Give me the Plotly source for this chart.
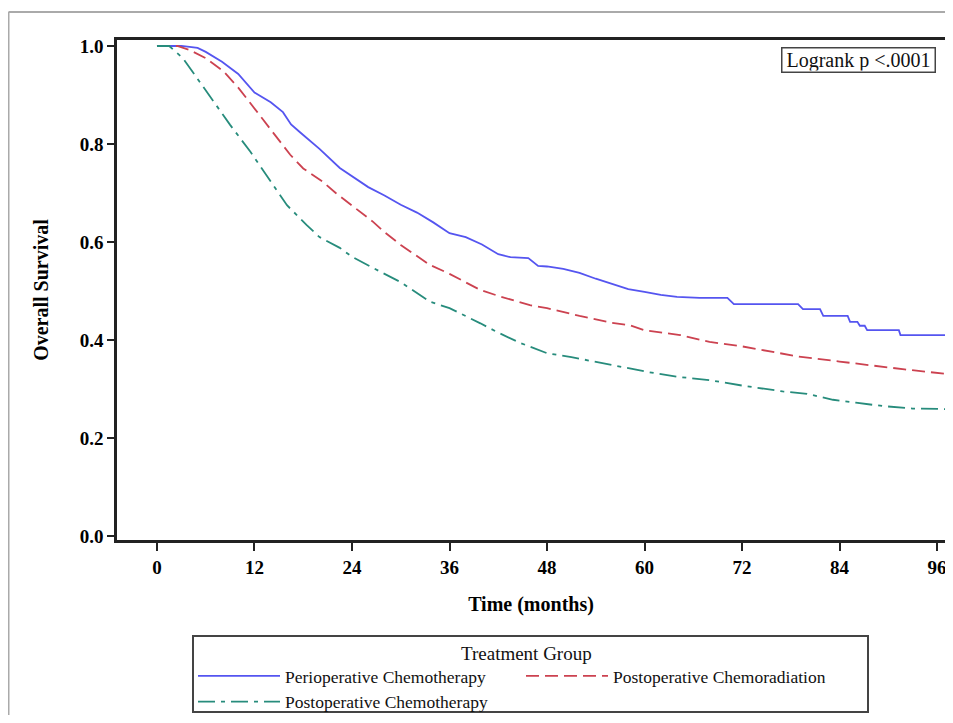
import plotly.graph_objects as go

# ---- data ----
peri_t = [0, 3, 5, 6, 8, 10, 12, 14, 15.5, 16.5, 17.6, 20, 22.5, 24, 26, 28, 30, 32, 34, 36,
          38, 40, 42, 43.5, 45.7, 46.9, 48, 50, 52, 54, 56, 58, 60, 62, 64, 66.8, 70.2, 71,
          78.9, 79.5, 81.6, 82, 85, 85.3, 86.2, 86.5, 87.1, 87.4, 91.3, 91.5, 97]
peri_s = [1.0, 1.0, 0.996, 0.988, 0.968, 0.943, 0.905, 0.885, 0.865, 0.84, 0.824, 0.79, 0.751,
          0.735, 0.712, 0.695, 0.676, 0.66, 0.64, 0.618, 0.61, 0.595, 0.575, 0.569, 0.567,
          0.551, 0.55, 0.545, 0.537, 0.525, 0.515, 0.504, 0.498, 0.492, 0.488, 0.486, 0.486,
          0.473, 0.473, 0.463, 0.463, 0.449, 0.449, 0.437, 0.437, 0.429, 0.429, 0.420, 0.420,
          0.410, 0.410]

crt_t = [0, 2.5, 4, 6, 8.2, 10, 12.3, 14, 16.4, 18, 20.4, 22, 24, 26.6, 28, 30, 33.6, 36,
         39.8, 42, 45.9, 48, 52, 56, 58.2, 60, 64.4, 68, 72, 79, 84, 87.3, 92, 97]
crt_s = [1.0, 1.0, 0.992, 0.975, 0.948, 0.915, 0.866, 0.83, 0.778, 0.75, 0.723, 0.70, 0.675,
         0.641, 0.62, 0.594, 0.553, 0.535, 0.502, 0.49, 0.471, 0.465, 0.449, 0.435, 0.43,
         0.42, 0.41, 0.396, 0.387, 0.366, 0.356, 0.349, 0.34, 0.331]

ct_t = [0, 1.5, 3.2, 6.1, 9, 11.5, 14.3, 16, 18.4, 20, 22.5, 24, 26.6, 30, 33.6, 36, 39.8,
        42, 44.7, 48, 51, 54.2, 57, 60.3, 64, 68, 72, 77, 80, 83.2, 86, 89.4, 93, 97]
ct_s = [1.0, 1.0, 0.975, 0.907, 0.839, 0.784, 0.716, 0.675, 0.635, 0.61, 0.588, 0.57, 0.547,
        0.518, 0.478, 0.465, 0.434, 0.415, 0.394, 0.373, 0.365, 0.355, 0.345, 0.335, 0.325,
        0.318, 0.307, 0.295, 0.29, 0.278, 0.272, 0.265, 0.26, 0.259]

names = ["Perioperative Chemotherapy", "Postoperative Chemoradiation", "Postoperative Chemotherapy"]
x_ticks = [0, 12, 24, 36, 48, 60, 72, 84, 96]
y_ticks = [0.0, 0.2, 0.4, 0.6, 0.8, 1.0]

FONT = "Liberation Serif"

fig = go.Figure()
fig.add_trace(go.Scatter(x=peri_t, y=peri_s, mode="lines", name=names[0],
                         line=dict(color="#5555f0", width=1.8, dash="solid")))
fig.add_trace(go.Scatter(x=crt_t, y=crt_s, mode="lines", name=names[1],
                         line=dict(color="#cc4250", width=1.8, dash="13px,6px")))
fig.add_trace(go.Scatter(x=ct_t, y=ct_s, mode="lines", name=names[2],
                         line=dict(color="#278c7c", width=1.8, dash="17px,6px,4px,6px")))

# page body has an 8px margin, so the figure is drawn 8px in from the window edge
OFF = 8
W, H = 940, 707
L, R, T, B = 109, 3, 32, 175
pw, ph = W - L - R, H - T - B

def px2paper(x, y):
    """window pixel -> paper coords"""
    return (x - OFF - L) / pw, (H - B - (y - OFF)) / ph

# outer frame of the picture (top and left edges)
x0, y0 = px2paper(OFF + 0.5, 12)
x1, _ = px2paper(OFF + W, 12)
_, y1 = px2paper(OFF + 0.5, OFF + H)
fig.add_shape(type="line", xref="paper", yref="paper", x0=x0, y0=y0, x1=x1, y1=y0,
              line=dict(color="#aaaaaa", width=2))
fig.add_shape(type="line", xref="paper", yref="paper", x0=x0, y0=y0, x1=x0, y1=y1,
              line=dict(color="#aaaaaa", width=2))

# legend frame and title
lx0, ly0 = px2paper(193, 636)
lx1, ly1 = px2paper(868, 712)
fig.add_shape(type="rect", xref="paper", yref="paper", x0=lx0, y0=ly0, x1=lx1, y1=ly1,
              line=dict(color="#444444", width=2), fillcolor="rgba(0,0,0,0)")
tx, ty = px2paper(526, 653)
fig.add_annotation(xref="paper", yref="paper", x=tx, y=ty, xanchor="center", yanchor="middle",
                   text="Treatment Group", showarrow=False,
                   font=dict(family=FONT, size=19, color="#111111"))
_, legy = px2paper(0, 658)

ax, ay = px2paper(936, 47)
fig.add_annotation(xref="paper", yref="paper", x=ax, y=ay, xanchor="right", yanchor="top",
                   text="Logrank p <.0001", showarrow=False,
                   font=dict(family=FONT, size=20, color="#111111"),
                   width=150, height=21, align="center",
                   bordercolor="#444444", borderwidth=1.5, borderpad=1, bgcolor="white")

fig.update_layout(
    width=W, height=H,
    margin=dict(l=L, r=R, t=T, b=B, autoexpand=False),
    paper_bgcolor="white", plot_bgcolor="white",
    font=dict(family=FONT, color="black"),
    xaxis=dict(range=[-4.92, 96.98], tickvals=x_ticks, ticks="outside", ticklen=8, tickwidth=2,
               tickcolor="#222222", showline=True, linecolor="#222222", linewidth=2.5, mirror=True,
               showgrid=False, zeroline=False,
               tickfont=dict(family=FONT, size=19, color="black", weight="bold"),
               title=dict(text="<b>Time (months)</b>", font=dict(family=FONT, size=20), standoff=21)),
    yaxis=dict(range=[-0.0082, 1.0122], tickvals=y_ticks, tickformat=".1f", ticks="outside",
               ticklen=7, tickwidth=2, tickcolor="#222222", showline=True, linecolor="#222222",
               linewidth=2.5, mirror=True, showgrid=False, zeroline=False,
               tickfont=dict(family=FONT, size=19, color="black", weight="bold"),
               title=dict(text="<b>Overall Survival</b>", font=dict(family=FONT, size=20), standoff=26)),
    showlegend=True,
    legend=dict(orientation="h", x=lx0, xanchor="left", y=legy, yanchor="top",
                borderwidth=0, bgcolor="rgba(0,0,0,0)",
                font=dict(family=FONT, size=17.5, color="#111111"),
                itemwidth=82, entrywidth=231, tracegroupgap=0),
)

fig.write_html("out.html")
